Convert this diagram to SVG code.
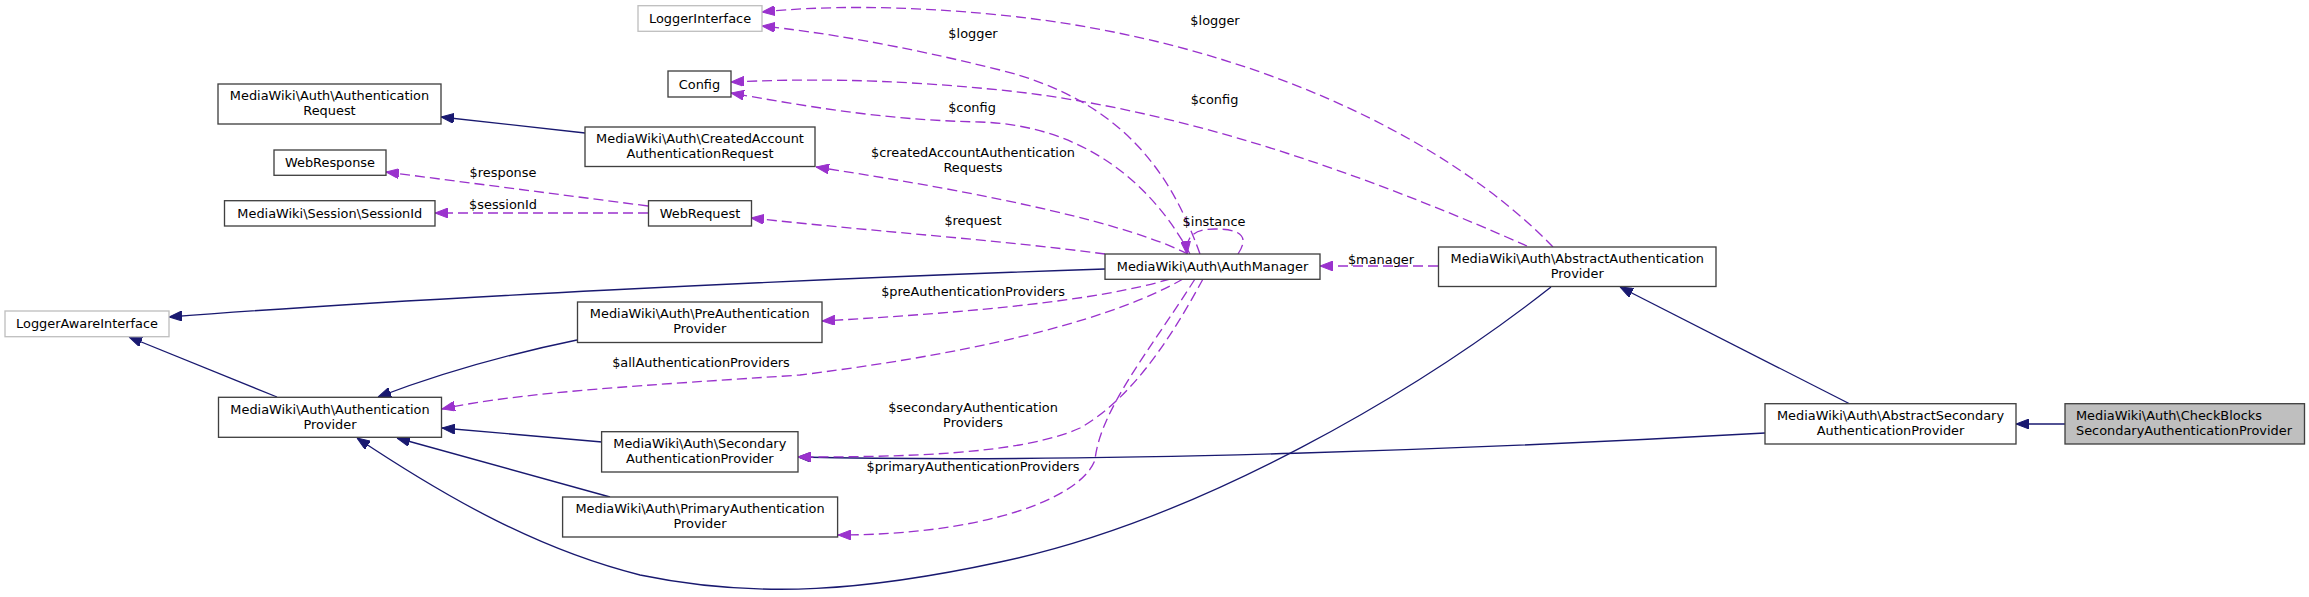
<svg xmlns="http://www.w3.org/2000/svg" width="2309" height="597" viewBox="0 0 2309 597">
<style>
text{font-family:"DejaVu Sans","Liberation Sans",sans-serif;font-size:12.9px;fill:#000}
.n rect{fill:#fff;stroke:#404040;stroke-width:1.33}
.n.g rect{stroke:#bfbfbf}
.n.c rect{fill:#bfbfbf}
.m{text-anchor:middle}
.s{fill:none;stroke:#191970;stroke-width:1.33;marker-end:url(#ab)}
.d{fill:none;stroke:#9a32cd;stroke-width:1.33;stroke-dasharray:10,5;marker-end:url(#ap)}
</style>
<defs>
<marker id="ab" viewBox="0 0 13 10" refX="13" refY="5" markerWidth="13" markerHeight="10" markerUnits="userSpaceOnUse" orient="auto"><path d="M0,0L13,5L0,10z" fill="#191970" stroke="#191970" stroke-width="1"/></marker>
<marker id="ap" viewBox="0 0 13 10" refX="13" refY="5" markerWidth="13" markerHeight="10" markerUnits="userSpaceOnUse" orient="auto"><path d="M0,0L13,5L0,10z" fill="#9a32cd" stroke="#9a32cd" stroke-width="1"/></marker>
</defs>
<rect width="2309" height="597" fill="#fff"/>
<g id="connectors">
<path class="s" d="M2065,424L2016,424"/>
<path class="s" d="M1850,404L1620,287"/>
<path class="s" d="M1765,433C1500,448 1100,464 798,457"/>
<path class="s" d="M1551,287C1420,390 1200,520 1000,562C870,590 760,600 640,575C540,550 450,500 357,438"/>
<path class="s" d="M1105,269C800,279 400,299 169,317"/>
<path class="s" d="M577,340Q470,362 378,397"/>
<path class="s" d="M602,442L442,428"/>
<path class="s" d="M610,497L397,438"/>
<path class="s" d="M277,397L129,337"/>
<path class="s" d="M585,133L441,117"/>
<path class="d" d="M648,206L386,172"/>
<path class="d" d="M648,213L435,213"/>
<path class="d" d="M1438,266L1320,266"/>
<path class="d" d="M1553,247C1450,140 1250,40 1000,15C900,5 820,6 762,12"/>
<path class="d" d="M1527,246C1400,190 1200,110 1000,90C880,78 800,79 731,82"/>
<path class="d" d="M1200,254C1170,170 1120,100 1000,70C900,45 820,32 762,26"/>
<path class="d" d="M1190,254C1150,180 1080,125 980,122C880,120 800,105 731,93"/>
<path class="d" d="M1188,254C1130,225 1000,195 816,167"/>
<path class="d" d="M1105,254C1000,240 880,232 751,218"/>
<path class="d" d="M1238,254C1250,236 1240,229 1215,229C1195,229 1185,236 1187,254"/>
<path class="d" d="M1170,279C1100,300 980,312 822,321"/>
<path class="d" d="M1183,279C1120,315 1000,350 800,375C650,385 520,392 442,409"/>
<path class="d" d="M1203,279C1170,340 1130,400 1080,428C1020,455 900,457 798,457"/>
<path class="d" d="M1195,279C1150,350 1100,410 1095,460C1080,500 980,535 838,535"/>
</g>
<g id="edge-labels">
<text class="m" x="973" y="37.5">$logger</text>
<text class="m" x="1215" y="24.5">$logger</text>
<text class="m" x="972" y="112">$config</text>
<text class="m" x="1214.5" y="104">$config</text>
<text class="m" x="973" y="157">$createdAccountAuthentication</text>
<text class="m" x="973" y="172">Requests</text>
<text class="m" x="973" y="225">$request</text>
<text class="m" x="1214" y="225.5">$instance</text>
<text class="m" x="1381" y="263.5">$manager</text>
<text class="m" x="973" y="296">$preAuthenticationProviders</text>
<text class="m" x="701" y="367">$allAuthenticationProviders</text>
<text class="m" x="973" y="412">$secondaryAuthentication</text>
<text class="m" x="973" y="427">Providers</text>
<text class="m" x="973" y="471">$primaryAuthenticationProviders</text>
<text class="m" x="503" y="177">$response</text>
<text class="m" x="503" y="208.8">$sessionId</text>
</g>
<g id="LoggerInterface" class="n g"><rect x="638" y="5.7" width="124" height="25.6"/><text class="m" x="700" y="23">LoggerInterface</text></g>
<g id="Config" class="n"><rect x="668" y="71" width="63" height="26"/><text class="m" x="699.5" y="88.5">Config</text></g>
<g id="AuthenticationRequest" class="n"><rect x="218" y="84" width="223" height="40"/><text class="m" x="329.5" y="100.2">MediaWiki\Auth\Authentication</text><text class="m" x="329.5" y="115.2">Request</text></g>
<g id="CreatedAccountAuthenticationRequest" class="n"><rect x="585" y="127" width="230" height="39.5"/><text class="m" x="700" y="143.2">MediaWiki\Auth\CreatedAccount</text><text class="m" x="700" y="158.2">AuthenticationRequest</text></g>
<g id="WebResponse" class="n"><rect x="274" y="150" width="112" height="25.3"/><text class="m" x="330" y="167.2">WebResponse</text></g>
<g id="SessionId" class="n"><rect x="224.5" y="200.7" width="210.5" height="25.3"/><text class="m" x="329.75" y="217.9">MediaWiki\Session\SessionId</text></g>
<g id="WebRequest" class="n"><rect x="648.5" y="200.7" width="103" height="25.3"/><text class="m" x="700" y="217.9">WebRequest</text></g>
<g id="LoggerAwareInterface" class="n g"><rect x="5" y="311" width="164" height="25.7"/><text class="m" x="87" y="328.4">LoggerAwareInterface</text></g>
<g id="AuthManager" class="n"><rect x="1105" y="254" width="215" height="25.3"/><text class="m" x="1212.5" y="271.2">MediaWiki\Auth\AuthManager</text></g>
<g id="AbstractAuthenticationProvider" class="n"><rect x="1438.5" y="247" width="277.5" height="39.5"/><text class="m" x="1577.25" y="263.2">MediaWiki\Auth\AbstractAuthentication</text><text class="m" x="1577.25" y="278.2">Provider</text></g>
<g id="PreAuthenticationProvider" class="n"><rect x="577.5" y="302" width="244.5" height="40.5"/><text class="m" x="699.75" y="318.2">MediaWiki\Auth\PreAuthentication</text><text class="m" x="699.75" y="333.2">Provider</text></g>
<g id="AuthenticationProvider" class="n"><rect x="218.5" y="397.3" width="223" height="40"/><text class="m" x="330" y="413.5">MediaWiki\Auth\Authentication</text><text class="m" x="330" y="428.5">Provider</text></g>
<g id="SecondaryAuthenticationProvider" class="n"><rect x="601.6" y="431.7" width="196.4" height="40.3"/><text class="m" x="699.8" y="447.9">MediaWiki\Auth\Secondary</text><text class="m" x="699.8" y="462.9">AuthenticationProvider</text></g>
<g id="PrimaryAuthenticationProvider" class="n"><rect x="562.6" y="497" width="275" height="40"/><text class="m" x="700" y="513.2">MediaWiki\Auth\PrimaryAuthentication</text><text class="m" x="700" y="528.2">Provider</text></g>
<g id="AbstractSecondaryAuthenticationProvider" class="n"><rect x="1765" y="403.7" width="251" height="40.3"/><text class="m" x="1890.5" y="419.9">MediaWiki\Auth\AbstractSecondary</text><text class="m" x="1890.5" y="434.9">AuthenticationProvider</text></g>
<g id="CheckBlocksSecondaryAuthenticationProvider" class="n c"><rect x="2065" y="403.7" width="239.5" height="40.3"/><text x="2076" y="419.9">MediaWiki\Auth\CheckBlocks</text><text x="2076" y="434.9">SecondaryAuthenticationProvider</text></g>
</svg>
